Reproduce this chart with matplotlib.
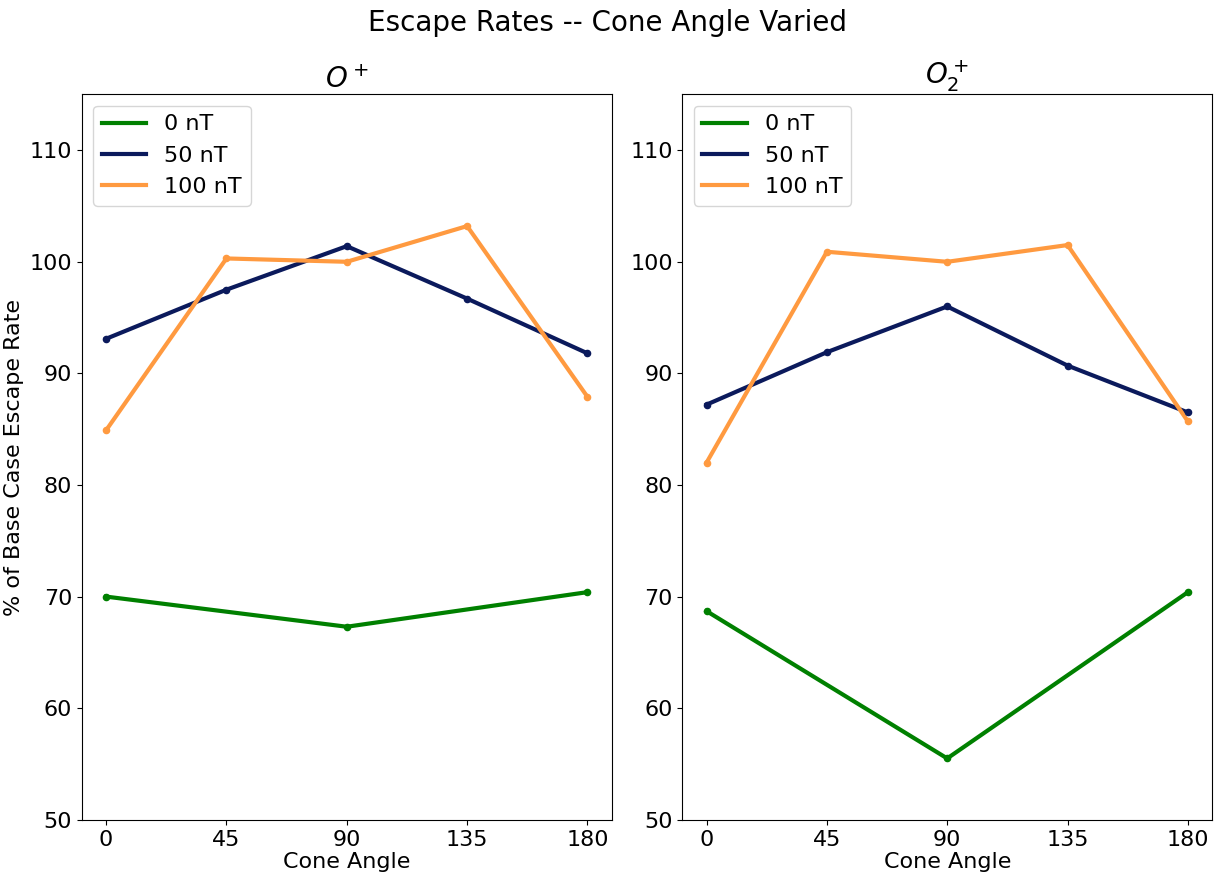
import matplotlib
matplotlib.use('Agg')
import matplotlib.pyplot as plt

# cone angles (deg)
angles = [0, 45, 90, 135, 180]
angles_0nT = [0, 90, 180]

# O+ escape, % of base case
o_0nT = [70.0, 67.3, 70.4]
o_50nT = [93.1, 97.5, 101.4, 96.7, 91.8]
o_100nT = [84.9, 100.3, 100.0, 103.2, 87.9]

# O2+ escape, % of base case
o2_0nT = [68.7, 55.5, 70.4]
o2_50nT = [87.2, 91.9, 96.0, 90.7, 86.5]
o2_100nT = [82.0, 100.9, 100.0, 101.5, 85.7]

labels = ['0 nT', '50 nT', '100 nT']
colors = ['green', '#0b1a5c', '#ff9a40']
titles = ['$O^+$', '$O_2^+$']


def draw_panel(ax, series, title):
    xs = [angles_0nT, angles, angles]
    for x, y, lab, c in zip(xs, series, labels, colors):
        ax.plot(x, y, color=c, lw=3, label=lab)
        ax.scatter(x, y, color=c, s=20, zorder=3)
    ax.set_title(title, fontsize=20, pad=4)
    ax.set_xticks(angles)
    ax.set_ylim(50, 115)
    ax.set_xlabel('Cone Angle', fontsize=16, labelpad=2)
    ax.tick_params(labelsize=16)
    ax.legend(loc='upper left', fontsize=16)


fig, axes = plt.subplots(1, 2, figsize=(12.15, 8.74), dpi=100)
draw_panel(axes[0], [o_0nT, o_50nT, o_100nT], titles[0])
draw_panel(axes[1], [o2_0nT, o2_50nT, o2_100nT], titles[1])
axes[0].set_ylabel('% of Base Case Escape Rate', fontsize=16)
fig.suptitle('Escape Rates -- Cone Angle Varied', fontsize=20, y=0.99)
fig.subplots_adjust(left=0.0675, right=0.9975, bottom=0.062, top=0.892, wspace=0.134)
fig.savefig('out.png')
